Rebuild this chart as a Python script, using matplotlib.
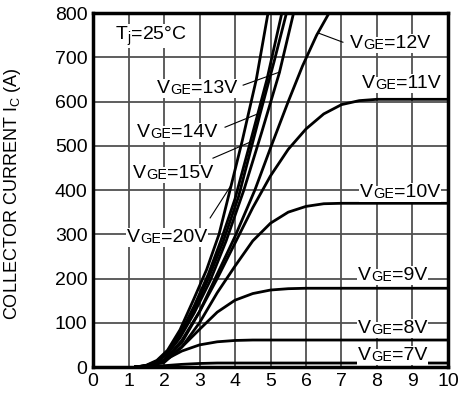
import matplotlib
matplotlib.use("Agg")
import matplotlib.pyplot as plt

plt.rcParams["font.family"] = ["Liberation Sans", "DejaVu Sans"]

# ─── Data (VCE in V, IC in A) ─────────────────────────────────────────────────
vce_20 = [1.2, 1.5, 1.8, 2.1, 2.45, 2.82, 3.2, 3.55, 3.86, 4.2, 4.6, 4.93]
ic_20 = [0, 4, 15, 38, 84, 150, 220, 300, 400, 510, 650, 800]

vce_15 = [1.2, 1.5, 1.8, 2.1, 2.45, 2.85, 3.25, 3.6, 4.0, 4.42, 4.9, 5.32]
ic_15 = [0, 3, 13, 34, 75, 138, 210, 285, 380, 505, 650, 800]

vce_14 = [1.2, 1.5, 1.8, 2.1, 2.45, 2.85, 3.25, 3.65, 4.1, 4.7, 5.1, 5.45]
ic_14 = [0, 3, 12, 32, 70, 130, 200, 280, 385, 570, 690, 800]

vce_13 = [1.2, 1.5, 1.8, 2.1, 2.45, 2.85, 3.3, 3.75, 4.25, 4.75, 5.25, 5.65]
ic_13 = [0, 2, 11, 30, 66, 122, 195, 285, 400, 530, 665, 800]

vce_12 = [1.2, 1.5, 2.0, 2.5, 3.0, 3.5, 4.0, 4.56, 5.0, 5.5, 5.9, 6.3, 6.65]
ic_12 = [0, 2, 15, 55, 125, 210, 295, 400, 495, 600, 680, 750, 800]

vce_11 = [1.2, 1.5, 2.0, 2.5, 3.0, 3.5, 4.0, 4.5, 5.0, 5.5, 6.0, 6.5, 7.0, 7.5, 8.0, 10.0]
ic_11 = [0, 2, 14, 60, 125, 200, 280, 360, 432, 492, 538, 572, 593, 602, 605, 605]

vce_10 = [1.2, 1.5, 2.0, 2.5, 3.0, 3.5, 4.0, 4.5, 5.0, 5.5, 6.0, 6.5, 7.0, 10.0]
ic_10 = [0, 2, 10, 45, 100, 168, 228, 285, 325, 350, 363, 369, 370, 370]

vce_9 = [1.2, 1.5, 2.0, 2.5, 3.0, 3.5, 4.0, 4.5, 5.0, 5.5, 6.0, 10.0]
ic_9 = [0, 2, 15, 45, 85, 124, 151, 166, 174, 177, 178, 178]

vce_8 = [1.2, 1.6, 2.0, 2.5, 3.0, 3.5, 4.0, 4.5, 10.0]
ic_8 = [0, 4, 15, 36, 50, 57, 60, 61, 61]

vce_7 = [1.2, 2.0, 2.5, 3.0, 3.5, 4.0, 10.0]
ic_7 = [0, 3, 6, 8, 9, 9, 9]

curves = [(vce_20, ic_20), (vce_15, ic_15), (vce_14, ic_14), (vce_13, ic_13),
          (vce_12, ic_12), (vce_11, ic_11), (vce_10, ic_10), (vce_9, ic_9),
          (vce_8, ic_8), (vce_7, ic_7)]

x_ticks = list(range(0, 11))
y_ticks = list(range(0, 801, 100))

# ─── Figure ───────────────────────────────────────────────────────────────────
fig = plt.figure(figsize=(4.6, 3.96), dpi=100)
ax = fig.add_axes([0.2022, 0.0732, 0.7717, 0.8939])

for xs, ys in curves:
    ax.plot(xs, ys, color="black", lw=2.0, zorder=3, solid_joinstyle="round")

ax.set_xlim(0, 10)
ax.set_ylim(0, 800)
ax.set_xticks(x_ticks)
ax.set_yticks(y_ticks)
ax.tick_params(length=0, labelsize=14, pad=4)
ax.grid(True, color="#505050", lw=1.3, zorder=1)
ax.set_axisbelow(True)
for sp in ax.spines.values():
    sp.set_linewidth(2.5)

ax.set_ylabel(r"COLLECTOR CURRENT I$\mathregular{_C}$ (A)", fontsize=13)
ax.yaxis.set_label_coords(-0.197, 0.49)

BOX = dict(fc="white", ec="none", pad=0.6)


def vge_label(x, y, v):
    """'VGE=..V' with small GE, all sitting on one baseline."""
    t1 = ax.text(x, y, "V", fontsize=14, va="baseline", ha="left",
                 bbox=BOX, zorder=5)
    t2 = ax.annotate("GE", xy=(1, 0), xycoords=t1, va="bottom", ha="left",
                     fontsize=10.5, bbox=BOX, zorder=5)
    ax.annotate(f"={v}V", xy=(1, 0), xycoords=t2, va="bottom", ha="left",
                fontsize=14, bbox=BOX, zorder=5)


vge_label(1.80, 619, 13)
vge_label(1.24, 520, 14)
vge_label(1.13, 427, 15)
vge_label(0.96, 282, 20)
vge_label(7.24, 721, 12)
vge_label(7.58, 630, 11)
vge_label(7.52, 384, 10)
vge_label(7.46, 197, 9)
vge_label(7.46, 77, 8)
vge_label(7.46, 16, 7)

ax.text(0.62, 740, r"T$\mathregular{_j}$=25°C", fontsize=14, va="baseline",
        ha="left", bbox=BOX, zorder=5)

# leader lines from labels to curves
leaders = [((4.23, 5.27), (637, 667)),
           ((3.72, 4.70), (542, 574)),
           ((3.38, 4.42), (472, 508)),
           ((3.30, 3.86), (337, 407)),
           ((7.04, 6.34), (734, 755))]
for lx, ly in leaders:
    ax.plot(lx, ly, color="black", lw=0.8, zorder=4)

fig.savefig("out.png", dpi=100)
